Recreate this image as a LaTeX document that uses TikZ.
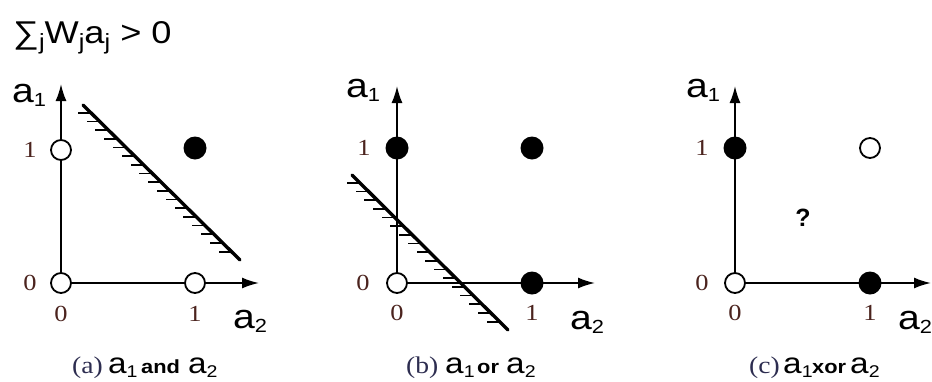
\documentclass[tikz,border=0pt]{standalone}
\usepackage{fontspec}
\setmainfont{Liberation Serif}
\newfontfamily\arialf{Liberation Sans}
\usetikzlibrary{calc,arrows.meta}
\definecolor{numcol}{RGB}{75,35,30}
\definecolor{capcol}{RGB}{45,45,80}
\newcommand{\hs}[1]{\scalebox{1.15}[1]{#1}}
\newcommand{\avar}[1]{\hs{\arialf\fontsize{34}{34}\selectfont a\raisebox{-4pt}{\fontsize{19}{19}\selectfont #1}}}
\newcommand{\cvar}[1]{\hs{\arialf\fontsize{29}{29}\selectfont a\raisebox{-4pt}{\fontsize{17}{17}\selectfont #1}}}
\newcommand{\opword}[1]{\hs{\arialf\bfseries\fontsize{19}{19}\selectfont #1}}
\newcommand{\jsub}{\raisebox{-6pt}{\fontsize{22}{22}\selectfont j}}
\tikzset{
  axisline/.style={line width=1.8pt, -{Latex[length=17pt,width=11pt]}},
  hyper/.style={line width=3.4pt, line cap=round},
  hatchline/.style={line width=1.8pt},
  opendot/.style={circle, draw, line width=1.8pt, fill=white, minimum size=20pt, inner sep=0pt},
  fulldot/.style={circle, fill=black, minimum size=23pt, inner sep=0pt},
  num/.style={font=\fontsize{23}{23}\selectfont, text=numcol, inner sep=0pt},
  lab/.style={anchor=base west, inner sep=0pt},
  caplab/.style={anchor=base west, inner sep=0pt, text=capcol, font=\fontsize{24}{24}\selectfont},
  qmark/.style={font=\arialf\bfseries\fontsize{25}{25}\selectfont, inner sep=0pt}
}
\begin{document}
\begin{tikzpicture}[x=1pt,y=-1pt]
\useasboundingbox (0,0) rectangle (932,381);
% title
\node[lab] (title) at (13,43) {\hs{\arialf\fontsize{31.5}{31.5}\selectfont ∑\jsub W\jsub a\jsub{} > 0}};

% ---------- panel (a) ----------
\coordinate (oa) at (61,283);
\coordinate (ya) at (61,84);
\coordinate (xa) at (259,283);
\draw[axisline] (oa) -- (ya);
\draw[axisline] (oa) -- (xa);
\coordinate (pa) at (83,105);
\coordinate (qa) at (240,260);
\foreach \t in {0.05,0.106,...,1.0}
  \draw[hatchline] ($(pa)!\t!(qa)$) -- ++(-13,0);
\draw[hyper] (pa) -- (qa);
\node[opendot] (a00) at (oa) {};
\node[opendot] (a10) at (195,283) {};
\node[opendot] (a01) at (61,150) {};
\node[fulldot] (a11) at (195,148) {};
\node[num] (ay1) at (30,150) {\hs{1}};
\node[num] (ay0) at (30,283) {\hs{0}};
\node[num] (ax0) at (61,314) {\hs{0}};
\node[num] (ax1) at (195,314) {\hs{1}};
\node[lab] (aa1) at (12,102) {\avar{1}};
\node[lab] (aa2) at (233,328) {\avar{2}};
\node[caplab] (capa) at (72,373) {\hs{(a)}};
\node[lab] (capa1) at (108,373) {\cvar{1}};
\node[lab] (capaop) at (141,373) {\opword{and}};
\node[lab] (capa2) at (188,373) {\cvar{2}};

% ---------- panel (b) ----------
\coordinate (ob) at (397,283);
\coordinate (yb) at (397,86);
\coordinate (xb) at (595,283);
\draw[axisline] (ob) -- (yb);
\draw[axisline] (ob) -- (xb);
\coordinate (pb) at (352,175);
\coordinate (qb) at (508,330);
\foreach \t in {0.05,0.106,...,1.0}
  \draw[hatchline] ($(pb)!\t!(qb)$) -- ++(-13,0);
\draw[hyper] (pb) -- (qb);
\node[opendot] (b00) at (ob) {};
\node[fulldot] (b10) at (532,283) {};
\node[fulldot] (b01) at (397,148) {};
\node[fulldot] (b11) at (532,148) {};
\node[num] (by1) at (364,148) {\hs{1}};
\node[num] (by0) at (363,283) {\hs{0}};
\node[num] (bx0) at (397,313) {\hs{0}};
\node[num] (bx1) at (532,313) {\hs{1}};
\node[lab] (ba1) at (346,97) {\avar{1}};
\node[lab] (ba2) at (570,329) {\avar{2}};
\node[caplab] (capb) at (406,373) {\hs{(b)}};
\node[lab] (capb1) at (445,373) {\cvar{1}};
\node[lab] (capbop) at (477,373) {\opword{or}};
\node[lab] (capb2) at (506,373) {\cvar{2}};

% ---------- panel (c) ----------
\coordinate (oc) at (735,283);
\coordinate (yc) at (735,86);
\coordinate (xc) at (931,283);
\draw[axisline] (oc) -- (yc);
\draw[axisline] (oc) -- (xc);
\node[opendot] (c00) at (oc) {};
\node[fulldot] (c10) at (870,283) {};
\node[fulldot] (c01) at (735,148) {};
\node[opendot] (c11) at (870,148) {};
\node[qmark] (cq) at (803,218) {?};
\node[num] (cy1) at (702,148) {\hs{1}};
\node[num] (cy0) at (702,283) {\hs{0}};
\node[num] (cx0) at (735,313) {\hs{0}};
\node[num] (cx1) at (870,313) {\hs{1}};
\node[lab] (ca1) at (686,97) {\avar{1}};
\node[lab] (ca2) at (898,329) {\avar{2}};
\node[caplab] (capc) at (749,373) {\hs{(c)}};
\node[lab] (capc1) at (783,373) {\cvar{1}};
\node[lab] (capcop) at (812,373) {\opword{xor}};
\node[lab] (capc2) at (850,373) {\cvar{2}};
\end{tikzpicture}
\end{document}
